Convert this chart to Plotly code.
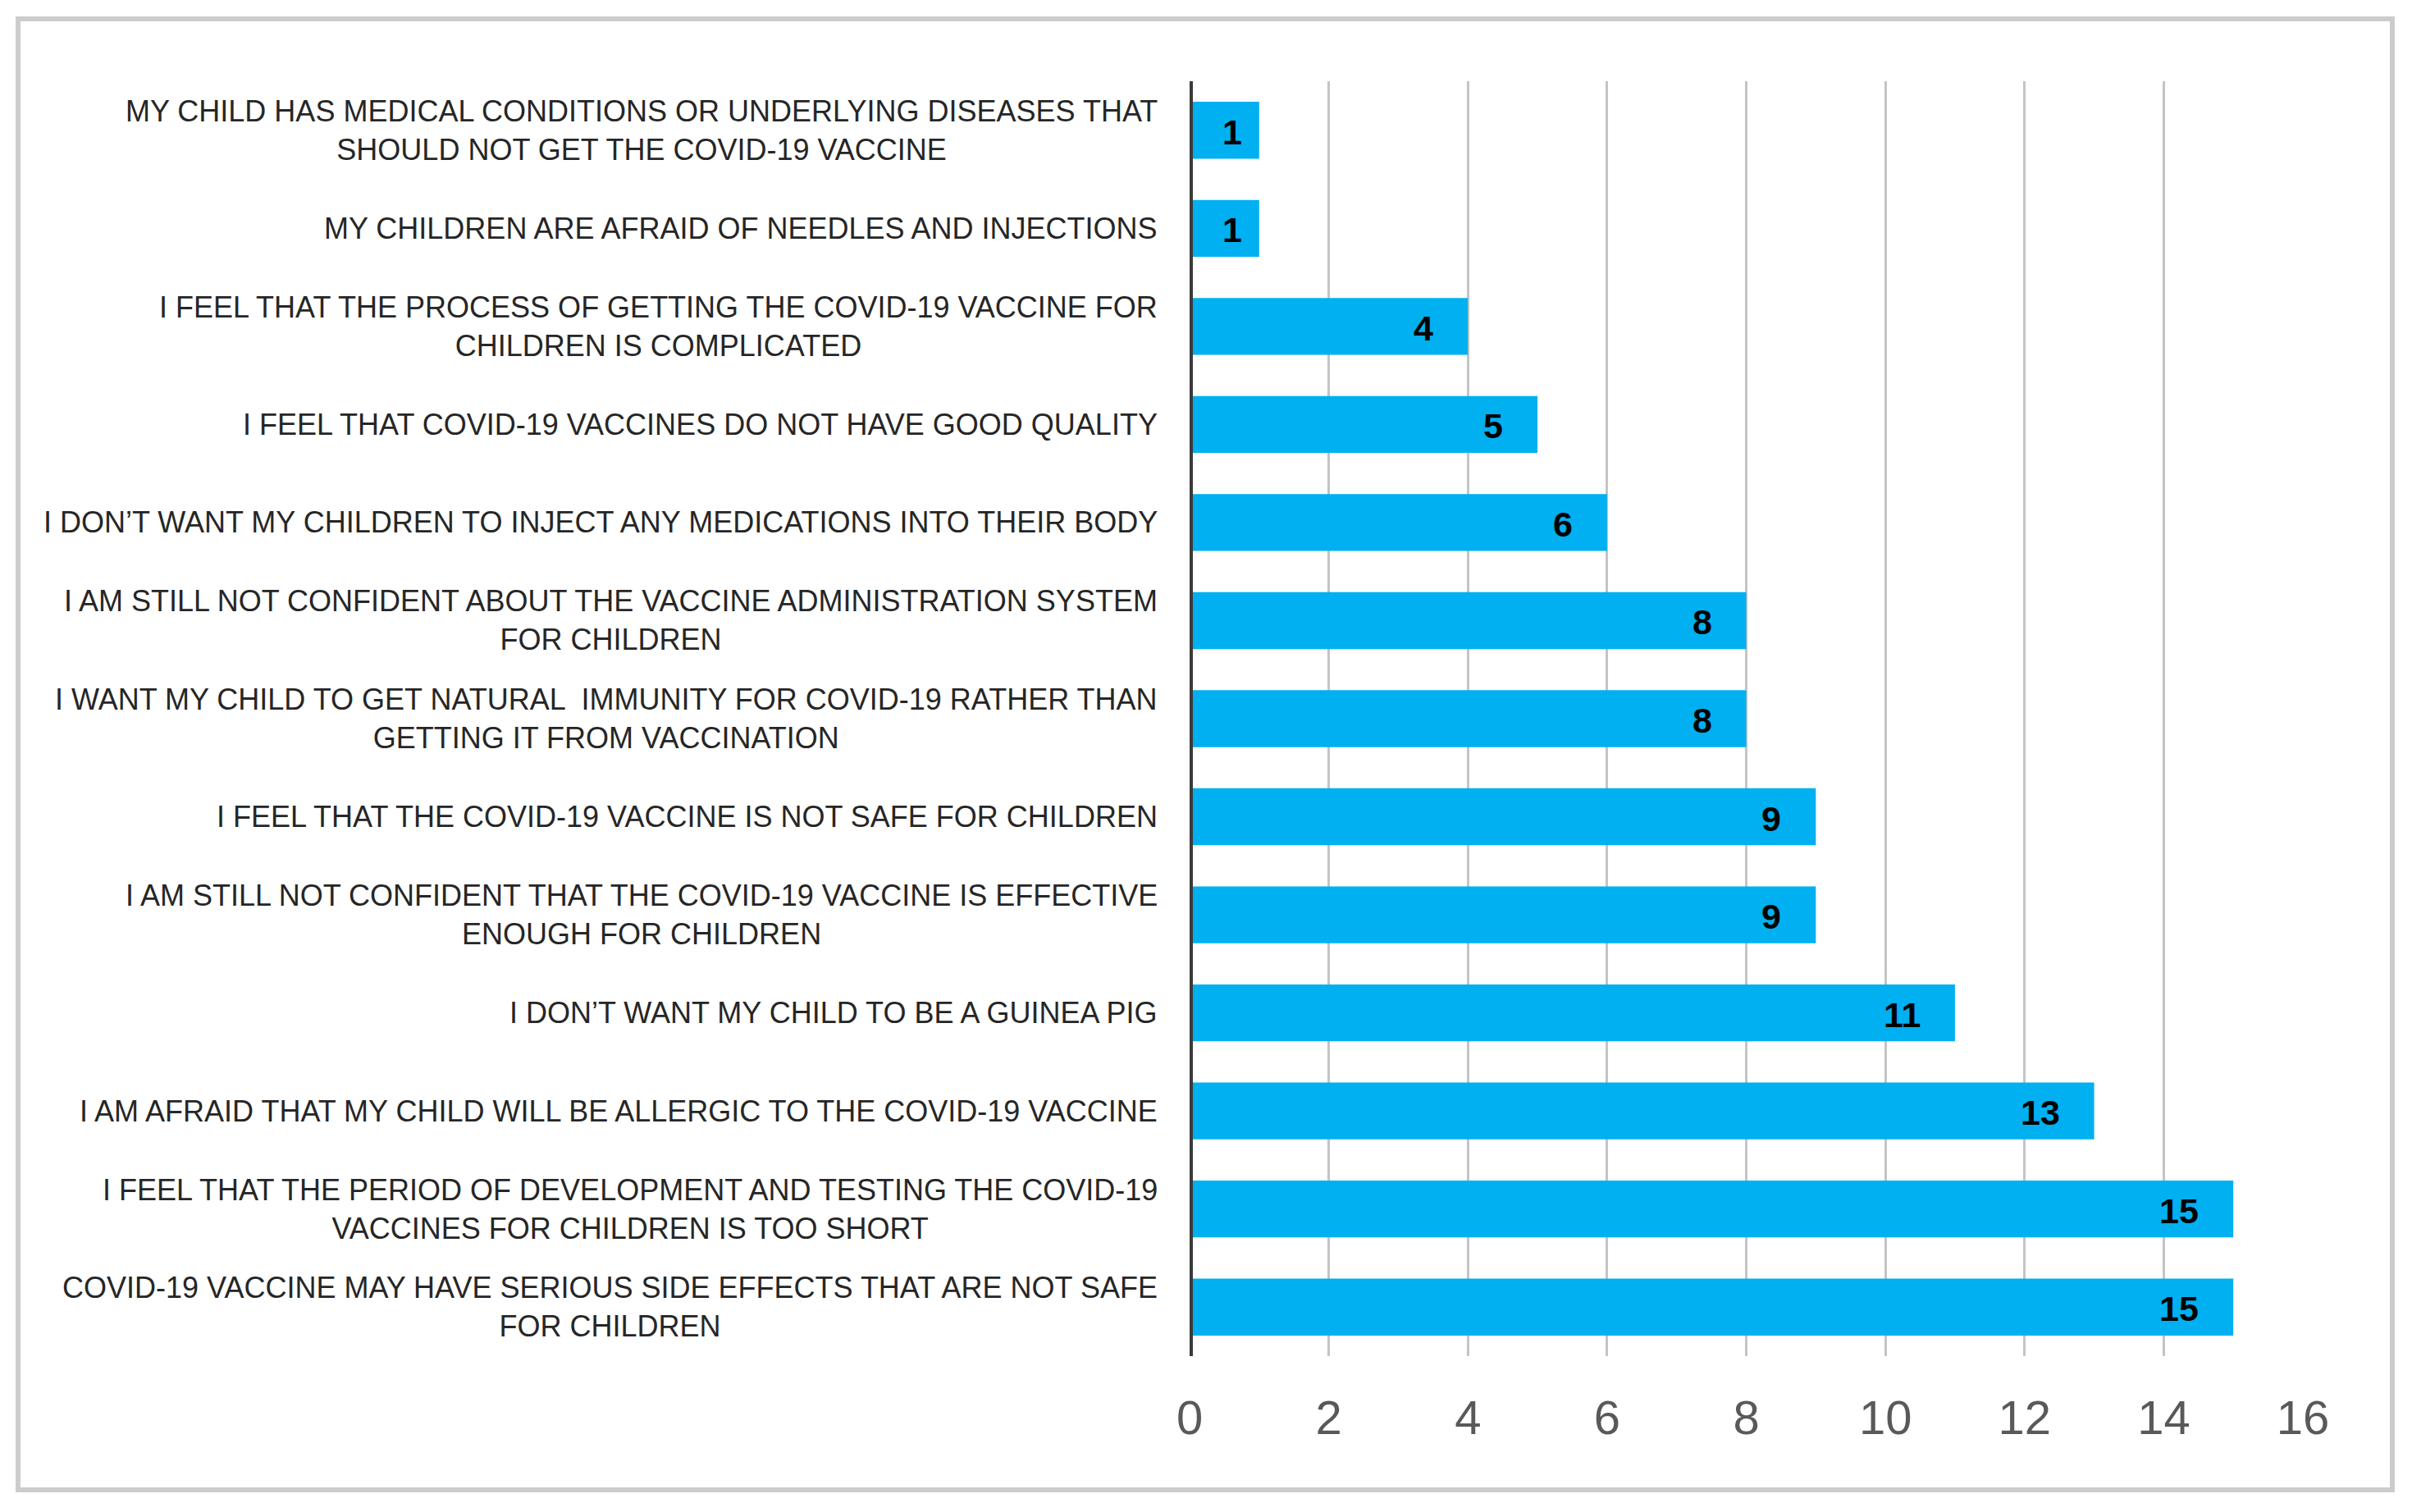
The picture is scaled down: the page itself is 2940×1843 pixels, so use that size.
import plotly.graph_objects as go

# ---- data (top to bottom as shown) ----
labels = [
    "MY CHILD HAS MEDICAL CONDITIONS OR UNDERLYING DISEASES THAT<br>SHOULD NOT GET THE COVID-19 VACCINE",
    "MY CHILDREN ARE AFRAID OF NEEDLES AND INJECTIONS",
    "I FEEL THAT THE PROCESS OF GETTING THE COVID-19 VACCINE FOR<br>CHILDREN IS COMPLICATED",
    "I FEEL THAT COVID-19 VACCINES DO NOT HAVE GOOD QUALITY",
    "I DON’T WANT MY CHILDREN TO INJECT ANY MEDICATIONS INTO THEIR BODY",
    "I AM STILL NOT CONFIDENT ABOUT THE VACCINE ADMINISTRATION SYSTEM<br>FOR CHILDREN",
    "I WANT MY CHILD TO GET NATURAL  IMMUNITY FOR COVID-19 RATHER THAN<br>GETTING IT FROM VACCINATION",
    "I FEEL THAT THE COVID-19 VACCINE IS NOT SAFE FOR CHILDREN",
    "I AM STILL NOT CONFIDENT THAT THE COVID-19 VACCINE IS EFFECTIVE<br>ENOUGH FOR CHILDREN",
    "I DON’T WANT MY CHILD TO BE A GUINEA PIG",
    "I AM AFRAID THAT MY CHILD WILL BE ALLERGIC TO THE COVID-19 VACCINE",
    "I FEEL THAT THE PERIOD OF DEVELOPMENT AND TESTING THE COVID-19<br>VACCINES FOR CHILDREN IS TOO SHORT",
    "COVID-19 VACCINE MAY HAVE SERIOUS SIDE EFFECTS THAT ARE NOT SAFE<br>FOR CHILDREN",
]
values = [1, 1, 4, 5, 6, 8, 8, 9, 9, 11, 13, 15, 15]
x_ticks = [0, 2, 4, 6, 8, 10, 12, 14, 16]

# ---- layout geometry (pixels, target page coords) ----
OFF = 8  # default page body margin
W, H = 2940, 1843
PL, PR, PT, PB = 1450, 2807, 99, 1653  # plot area edges in page pixels
L = PL - OFF
T = PT - OFF
R = W - (PR - OFF)
B = H - (PB - OFF)
PW, PH = PR - PL, PB - PT

def px_x(p):
    return (p - PL) / PW

def px_y(p):
    return (PB - p) / PH

NARROW = "Liberation Sans Narrow, Arial Narrow, Liberation Sans, sans-serif"

fig = go.Figure()
fig.add_trace(go.Bar(
    x=values,
    y=labels,
    orientation="h",
    marker=dict(color="#00B0F0", line=dict(width=0)),
    hoverinfo="skip",
))

annotations = []
for lab in labels:
    annotations.append(dict(
        xref="paper", x=0, xanchor="right", xshift=-37,
        yref="y", y=lab, yanchor="middle",
        text=lab, showarrow=False, align="center",
        font=dict(family=NARROW, size=36, color="#262626"),
    ))
# data labels at bar ends (inside end)
for lab, v in zip(labels, values):
    annotations.append(dict(
        xref="x", x=v, xanchor="right", xshift=(-40 if v > 1 else -19),
        yref="y", y=lab, yanchor="middle", yshift=-2,
        text=str(v), showarrow=False,
        font=dict(family=NARROW, size=43, color="#000000", weight="bold"),
    ))

shapes = [
    # outer frame
    dict(type="rect", xref="paper", yref="paper",
         x0=px_x(22), x1=px_x(2916), y0=px_y(1816), y1=px_y(23),
         line=dict(color="#cccccc", width=6), fillcolor="rgba(0,0,0,0)", layer="below"),
    # vertical axis line at zero
    dict(type="line", xref="x", yref="paper", x0=0, x1=0, y0=0, y1=1,
         line=dict(color="#3a3a3a", width=8), layer="above"),
]

fig.update_layout(
    width=W, height=H,
    margin=dict(l=L, r=R, t=T, b=B, pad=0),
    paper_bgcolor="#ffffff",
    plot_bgcolor="#ffffff",
    showlegend=False,
    bargap=0.42,
    annotations=annotations,
    shapes=shapes,
    xaxis=dict(
        range=[0, 16],
        tickvals=x_ticks,
        ticktext=[str(t) for t in x_ticks],
        showgrid=True, gridcolor="#c4c4c4", gridwidth=3,
        zeroline=False, showline=False, ticks="",
        ticklabelstandoff=36,
        tickfont=dict(family="Liberation Sans, Arial, sans-serif", size=58, color="#595959"),
    ),
    yaxis=dict(
        autorange="reversed",
        showticklabels=False, showgrid=False, zeroline=False, showline=False, ticks="",
    ),
)

fig.write_html("out.html")
